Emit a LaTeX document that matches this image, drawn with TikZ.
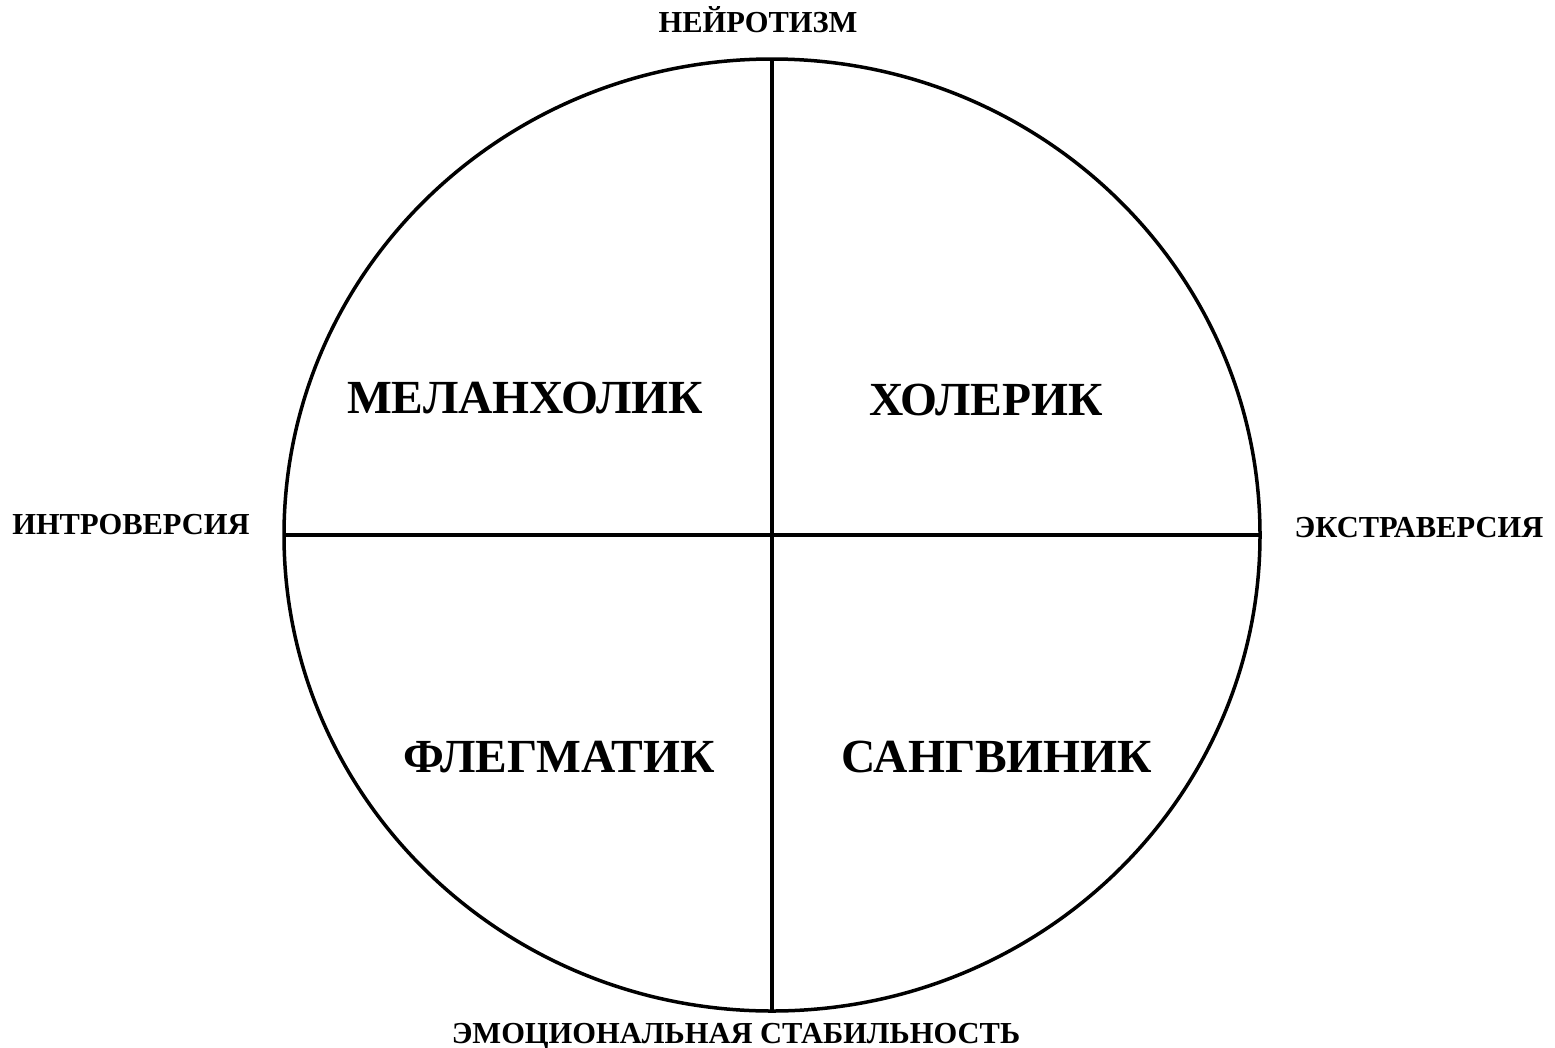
\documentclass[tikz,border=0pt]{standalone}
\usepackage{fontspec}
\setmainfont{Liberation Serif}
\usetikzlibrary{positioning}

\begin{document}
\begin{tikzpicture}[
  x=1pt, y=-1pt, line width=3.5pt,
  temper/.style={anchor=base,font=\fontsize{47.5}{47.5}\selectfont\bfseries,inner sep=0pt},
  axislabel/.style={anchor=base,font=\fontsize{30.5}{30.5}\selectfont\bfseries,inner sep=0pt}
]
\useasboundingbox (0,0) rectangle (1555,1047);
% circle and axes
\coordinate (c) at (772,535);
\draw (c) ellipse [x radius=488, y radius=476];
\coordinate (top) at (772,59);
\coordinate (bottom) at (772,1011);
\coordinate (left) at (284,535);
\coordinate (right) at (1260,535);
\draw (top) -- (bottom);
\draw (left) -- (right);
% axis labels
\node[axislabel] (neuro) at (758,32) {НЕЙРОТИЗМ};
\node[axislabel] (stab) at (736,1043) {ЭМОЦИОНАЛЬНАЯ СТАБИЛЬНОСТЬ};
\node[axislabel] (intro) at (131,534) {ИНТРОВЕРСИЯ};
\node[axislabel] (extra) at (1419,537) {ЭКСТРАВЕРСИЯ};
% temperaments
\node[temper] (mel) at (525,413) {МЕЛАНХОЛИК};
\node[temper] (chol) at (986,415) {ХОЛЕРИК};
\node[temper] (phleg) at (559,772) {ФЛЕГМАТИК};
\node[temper] (sang) at (997,772) {САНГВИНИК};
\end{tikzpicture}
\end{document}
